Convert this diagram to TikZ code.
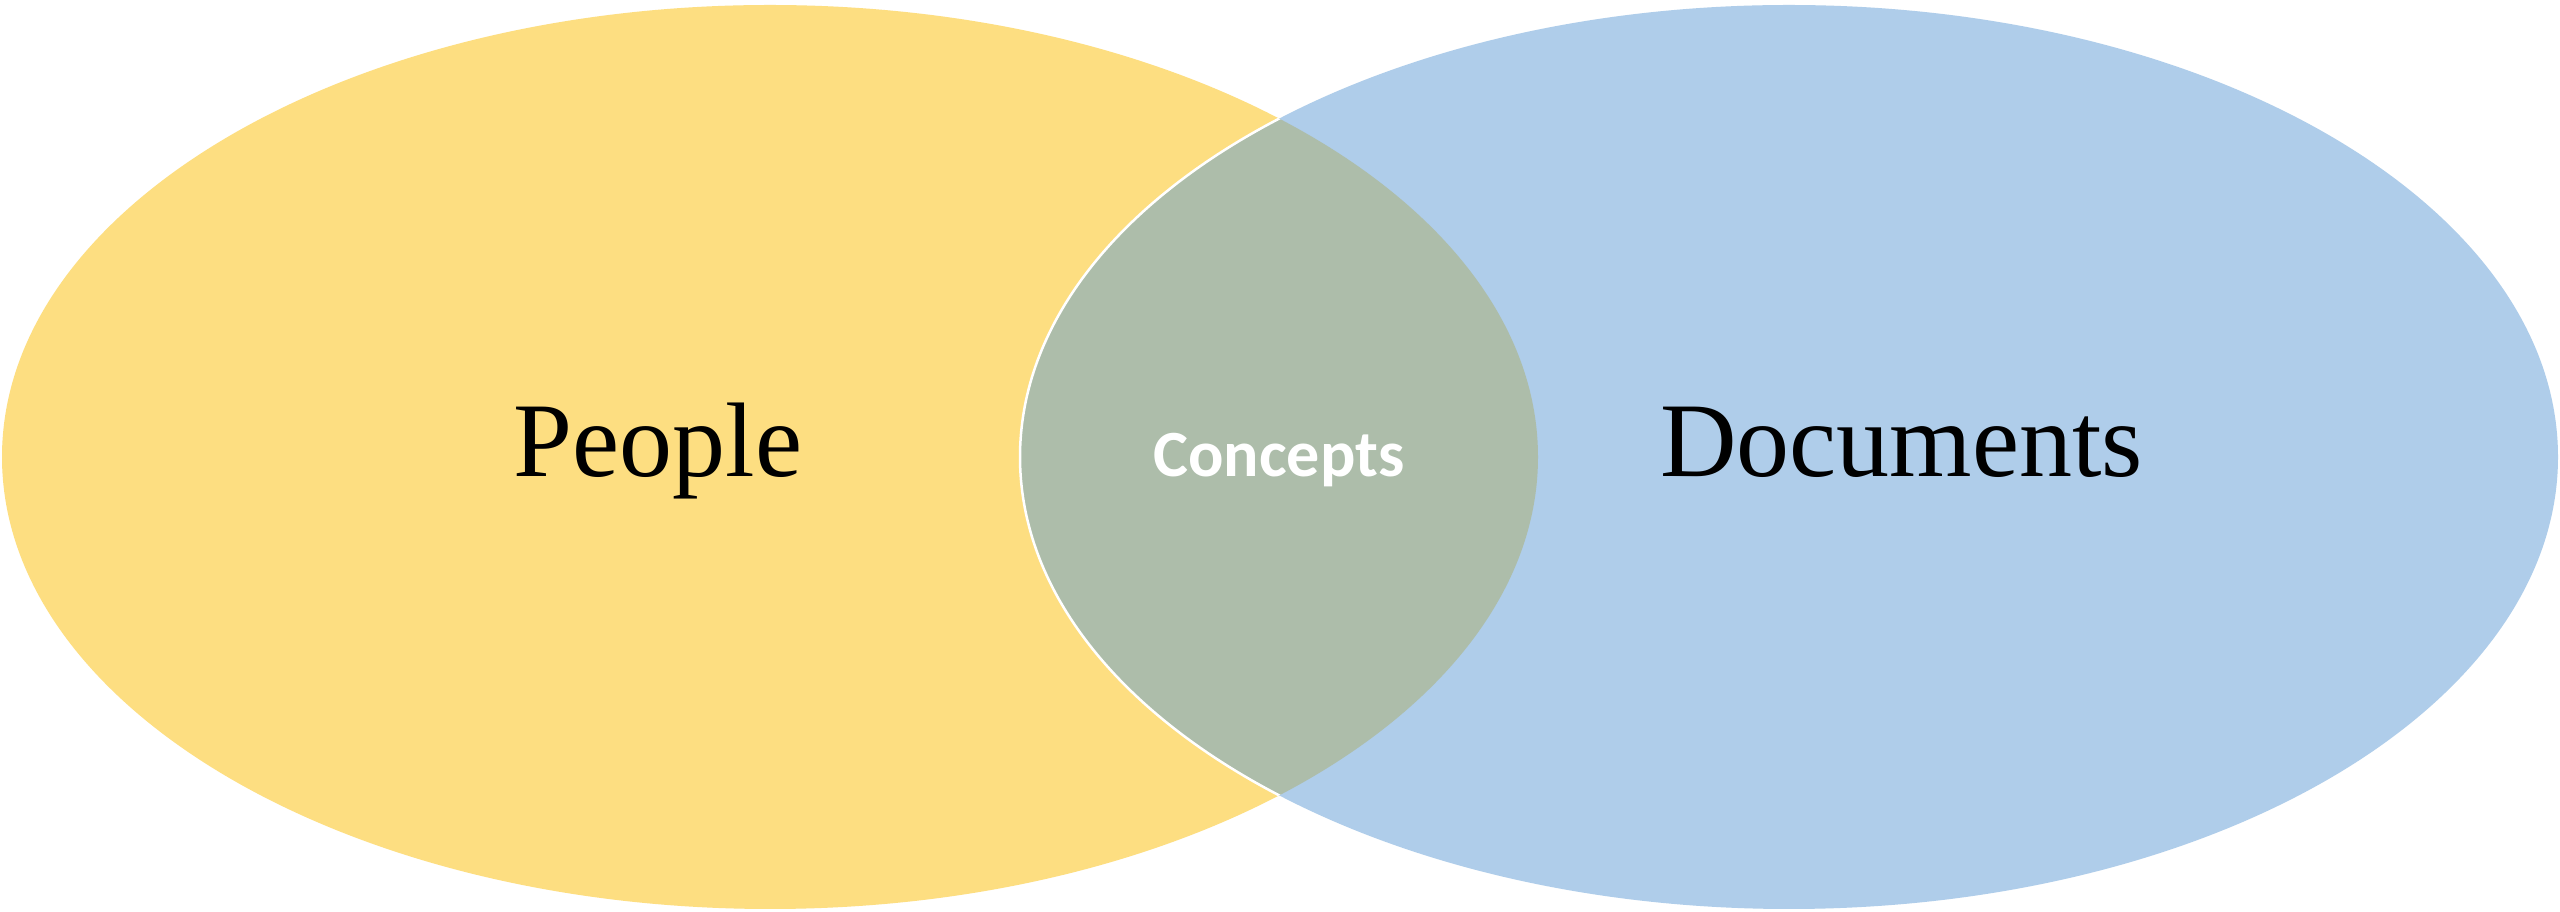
\documentclass[tikz,border=0pt]{standalone}
\usepackage{fontspec}
\setmainfont{Liberation Serif}
\newfontfamily\conceptfont{Carlito}
\definecolor{peopleyellow}{HTML}{FDDE81}
\definecolor{docblue}{HTML}{AFCDEA}
\definecolor{overlapgreen}{HTML}{ADBDAA}
\begin{document}
\begin{tikzpicture}[x=1pt,y=1pt,
  setlabel/.style={font=\fontsize{106}{120}\selectfont, text=black, inner sep=0pt},
  midlabel/.style={font=\conceptfont\bfseries\fontsize{66}{76}\selectfont, text=white, inner sep=0pt}]
\useasboundingbox (0,0) rectangle (2560,912);
\fill[white] (0,0) rectangle (2560,912);
\fill[peopleyellow] (770,455) ellipse [x radius=768, y radius=452];
\fill[docblue] (1789,455) ellipse [x radius=769, y radius=452];
\begin{scope}
  \clip (770,455) ellipse [x radius=768, y radius=452];
  \fill[overlapgreen] (1789,455) ellipse [x radius=769, y radius=452];
\end{scope}
\begin{scope}
  \clip (770,455) ellipse [x radius=768, y radius=452];
  \draw[white, line width=2.5pt] (1789,455) ellipse [x radius=769, y radius=452];
\end{scope}
\node[setlabel, anchor=base] (people) at (658,435) {People};
\node[setlabel, anchor=base west] (docs) at (1660,435) {Documents};
\node[midlabel, anchor=base] (concepts) at (1279,435) {Concepts};
\end{tikzpicture}
\end{document}
